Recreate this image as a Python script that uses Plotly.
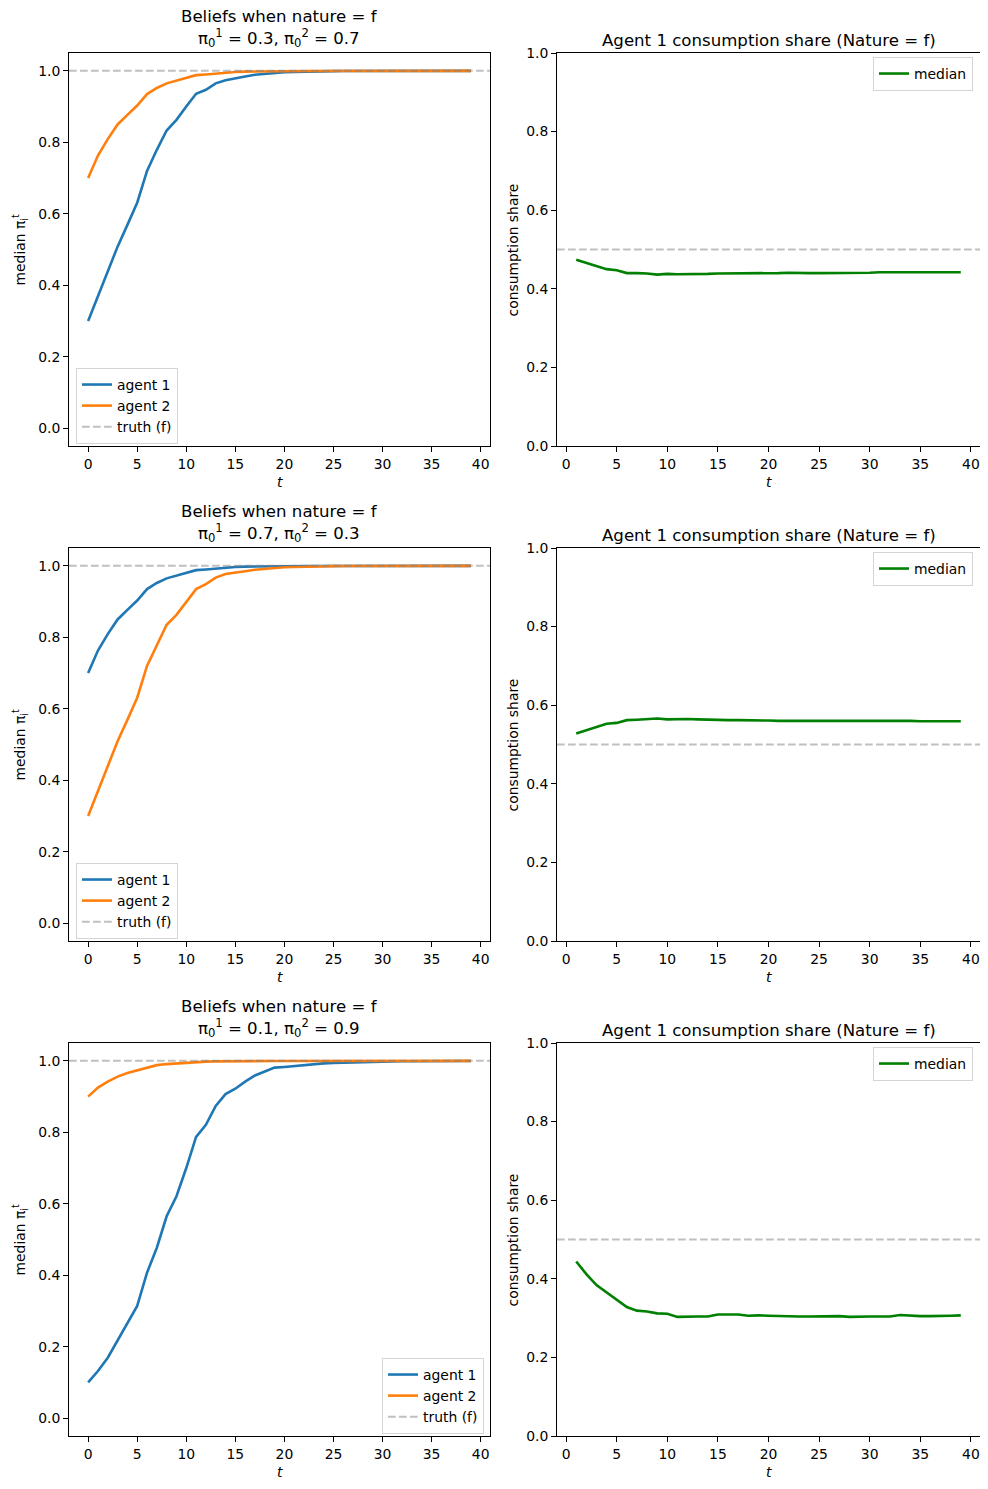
import plotly.graph_objects as go

# ---------------- data ----------------
T_BELIEF = list(range(40))
T_SHARE = list(range(1, 40))

# scenario 1: pi0 = (0.3, 0.7)
S1_AGENT1 = [0.300, 0.368, 0.438, 0.508, 0.569, 0.631, 0.720, 0.779, 0.833, 0.863,
             0.900, 0.936, 0.947, 0.965, 0.974, 0.978, 0.984, 0.989, 0.992, 0.994,
             0.996, 0.997, 0.998, 0.9985, 0.999, 0.9993, 0.9995, 0.9996, 0.9997, 0.9998,
             0.9998, 0.9999, 0.9999, 0.9999, 1.0, 1.0, 1.0, 1.0, 1.0, 1.0]
S1_AGENT2 = [0.700, 0.763, 0.809, 0.850, 0.877, 0.903, 0.935, 0.952, 0.965, 0.972,
             0.981, 0.988, 0.990, 0.993, 0.995, 0.997, 0.998, 0.9985, 0.999, 0.9993,
             0.9995, 0.9996, 0.9997, 0.9998, 0.9998, 0.9999, 0.9999, 1.0, 1.0, 1.0,
             1.0, 1.0, 1.0, 1.0, 1.0, 1.0, 1.0, 1.0, 1.0, 1.0]
S1_SHARE = [0.474, 0.466, 0.458, 0.450, 0.447, 0.440, 0.440, 0.439, 0.436, 0.438,
            0.437, 0.437, 0.4375, 0.438, 0.439, 0.439, 0.439, 0.439, 0.440, 0.440,
            0.440, 0.441, 0.440, 0.440, 0.440, 0.440, 0.441, 0.441, 0.441, 0.441,
            0.442, 0.442, 0.442, 0.442, 0.442, 0.442, 0.442, 0.442, 0.442]

# scenario 2: pi0 = (0.7, 0.3)
S2_AGENT1 = [0.700, 0.763, 0.809, 0.850, 0.877, 0.903, 0.935, 0.952, 0.965, 0.972,
             0.981, 0.988, 0.990, 0.993, 0.995, 0.997, 0.998, 0.9985, 0.999, 0.9993,
             0.9995, 0.9996, 0.9997, 0.9998, 0.9998, 0.9999, 0.9999, 1.0, 1.0, 1.0,
             1.0, 1.0, 1.0, 1.0, 1.0, 1.0, 1.0, 1.0, 1.0, 1.0]
S2_AGENT2 = [0.300, 0.370, 0.438, 0.509, 0.569, 0.631, 0.720, 0.779, 0.835, 0.863,
             0.900, 0.935, 0.949, 0.967, 0.977, 0.980, 0.985, 0.989, 0.992, 0.994,
             0.996, 0.997, 0.998, 0.9985, 0.999, 0.9993, 0.9995, 0.9996, 0.9997, 0.9998,
             0.9998, 0.9999, 0.9999, 0.9999, 1.0, 1.0, 1.0, 1.0, 1.0, 1.0]
S2_SHARE = [0.528, 0.536, 0.545, 0.553, 0.555, 0.562, 0.563, 0.564, 0.566, 0.564,
            0.565, 0.565, 0.564, 0.563, 0.562, 0.562, 0.562, 0.562, 0.561, 0.561,
            0.560, 0.560, 0.561, 0.560, 0.560, 0.560, 0.560, 0.560, 0.560, 0.560,
            0.560, 0.560, 0.560, 0.560, 0.559, 0.559, 0.559, 0.559, 0.559]

# scenario 3: pi0 = (0.1, 0.9)
S3_AGENT1 = [0.100, 0.132, 0.169, 0.216, 0.263, 0.314, 0.407, 0.477, 0.565, 0.621,
             0.700, 0.787, 0.821, 0.874, 0.907, 0.922, 0.942, 0.959, 0.970, 0.981,
             0.983, 0.986, 0.989, 0.992, 0.993, 0.994, 0.995, 0.996, 0.997, 0.998,
             0.998, 0.999, 0.999, 0.999, 0.9995, 0.9995, 0.9997, 0.9997, 0.9998, 0.9998]
S3_AGENT2 = [0.900, 0.925, 0.942, 0.956, 0.966, 0.973, 0.982, 0.988, 0.991, 0.993,
             0.995, 0.997, 0.998, 0.9985, 0.999, 0.9993, 0.9995, 0.9996, 0.9997, 0.9998,
             0.9998, 0.9999, 0.9999, 1.0, 1.0, 1.0, 1.0, 1.0, 1.0, 1.0,
             1.0, 1.0, 1.0, 1.0, 1.0, 1.0, 1.0, 1.0, 1.0, 1.0]
S3_SHARE = [0.444, 0.412, 0.384, 0.365, 0.348, 0.328, 0.319, 0.317, 0.312, 0.311,
            0.303, 0.304, 0.304, 0.304, 0.309, 0.309, 0.309, 0.306, 0.307, 0.306,
            0.305, 0.305, 0.304, 0.304, 0.304, 0.304, 0.305, 0.303, 0.304, 0.304,
            0.304, 0.304, 0.308, 0.306, 0.305, 0.305, 0.305, 0.306, 0.307]

PRIORS = [("0.3", "0.7"), ("0.7", "0.3"), ("0.1", "0.9")]
TRUTH = 1.0
EQUAL_SHARE = 0.5
BELIEF_TICKS = [0.0, 0.2, 0.4, 0.6, 0.8, 1.0]
SHARE_TICKS = [0.0, 0.2, 0.4, 0.6, 0.8, 1.0]
T_TICKS = [0, 5, 10, 15, 20, 25, 30, 35, 40]

SCENARIOS = [
    (S1_AGENT1, S1_AGENT2, S1_SHARE),
    (S2_AGENT1, S2_AGENT2, S2_SHARE),
    (S3_AGENT1, S3_AGENT2, S3_SHARE),
]

# ---------------- layout helpers ----------------
OFF = 8                      # page body margin of the browser
W, H = 988 - OFF, 1489 - OFF
FONT = "DejaVu Sans"
FS = 13.9
BLUE, ORANGE, GREEN = "#1f77b4", "#ff7f0e", "#008000"
GRAY = "rgba(128,128,128,0.5)"
DASH = "7.7px,3.3px"


def px(p):
    return (p - OFF) / W


def py(p):
    return 1 - (p - OFF) / H


def ax_id(n):
    return ("x" if n == 1 else f"x{n}"), ("y" if n == 1 else f"y{n}")


def ax_key(n):
    return ("xaxis" if n == 1 else f"xaxis{n}"), ("yaxis" if n == 1 else f"yaxis{n}")


def leg_key(n):
    return "legend" if n == 1 else f"legend{n}"


LEFT_X = (69, 490)
RIGHT_X = (557, 980)
ROWS_Y = [(53, 446), (548, 941), (1043, 1436)]

fig = go.Figure()
annotations = []
shapes = []
layout = {}

axis_common = dict(showline=True, linecolor="black", linewidth=1, mirror=True,
                   ticks="outside", ticklen=5, tickwidth=1, tickcolor="black",
                   showgrid=False, zeroline=False, automargin=False,
                   tickfont=dict(family=FONT, size=FS, color="black"))

legend_style = dict(bgcolor="rgba(255,255,255,0.8)", bordercolor="#d5d5d5",
                    borderwidth=1, font=dict(family=FONT, size=FS, color="black"),
                    tracegroupgap=0, itemwidth=30)

for r, (a1, a2, share) in enumerate(SCENARIOS):
    top, bot = ROWS_Y[r]
    nL = 2 * r + 1
    nR = 2 * r + 2
    xl, yl = ax_id(nL)
    xr, yr = ax_id(nR)
    kxl, kyl = ax_key(nL)
    kxr, kyr = ax_key(nR)
    legL, legR = leg_key(nL), leg_key(nR)

    layout[kxl] = dict(domain=[px(LEFT_X[0]), px(LEFT_X[1])], anchor=yl,
                       range=[-1.95, 40.95], tickvals=T_TICKS, **axis_common)
    layout[kyl] = dict(domain=[py(bot), py(top)], anchor=xl,
                       range=[-0.05, 1.05], tickvals=BELIEF_TICKS,
                       tickformat=".1f", **axis_common)
    layout[kxr] = dict(domain=[px(RIGHT_X[0]), px(RIGHT_X[1])], anchor=yr,
                       range=[-0.9, 40.9], tickvals=T_TICKS, **axis_common)
    layout[kyr] = dict(domain=[py(bot), py(top)], anchor=xr,
                       range=[0, 1], tickvals=SHARE_TICKS,
                       tickformat=".1f", **axis_common)

    # belief traces
    fig.add_trace(go.Scatter(x=T_BELIEF, y=a1, mode="lines", name="agent 1",
                             line=dict(color=BLUE, width=2.6), xaxis=xl, yaxis=yl,
                             legend=legL))
    fig.add_trace(go.Scatter(x=T_BELIEF, y=a2, mode="lines", name="agent 2",
                             line=dict(color=ORANGE, width=2.6), xaxis=xl, yaxis=yl,
                             legend=legL))
    fig.add_trace(go.Scatter(x=[None], y=[None], mode="lines", name="truth (f)",
                             line=dict(color=GRAY, width=2, dash=DASH),
                             xaxis=xl, yaxis=yl, legend=legL))
    shapes.append(dict(type="line", xref=f"{xl} domain", yref=yl, x0=0, x1=1,
                       y0=TRUTH, y1=TRUTH, line=dict(color=GRAY, width=2, dash=DASH)))

    # share traces
    fig.add_trace(go.Scatter(x=T_SHARE, y=share, mode="lines", name="median",
                             line=dict(color=GREEN, width=2.6), xaxis=xr, yaxis=yr,
                             legend=legR))
    shapes.append(dict(type="line", xref=f"{xr} domain", yref=yr, x0=0, x1=1,
                       y0=EQUAL_SHARE, y1=EQUAL_SHARE,
                       line=dict(color=GRAY, width=2, dash=DASH), layer="below"))

    if r < 2:
        layout[legL] = dict(x=px(LEFT_X[0] + 7), y=py(bot - 2), xanchor="left",
                            yanchor="bottom", **legend_style)
    else:
        layout[legL] = dict(x=px(LEFT_X[1] - 6), y=py(bot - 2), xanchor="right",
                            yanchor="bottom", **legend_style)
    layout[legR] = dict(x=px(RIGHT_X[1] - 7), y=py(top + 4), xanchor="right",
                        yanchor="top", **legend_style)

    p1, p2 = PRIORS[r]
    annotations.append(dict(
        text=f"Beliefs when nature = f<br>π<sub>0</sub><sup>1</sup> = {p1}, π<sub>0</sub><sup>2</sup> = {p2}",
        x=px((LEFT_X[0] + LEFT_X[1]) / 2), y=py(top - 1), xref="paper", yref="paper",
        xanchor="center", yanchor="bottom", showarrow=False,
        font=dict(family=FONT, size=16.6, color="black")))
    annotations.append(dict(
        text="Agent 1 consumption share (Nature = f)",
        x=px((RIGHT_X[0] + RIGHT_X[1]) / 2), y=py(top - 1), xref="paper", yref="paper",
        xanchor="center", yanchor="bottom", showarrow=False,
        font=dict(family=FONT, size=16.6, color="black")))
    annotations.append(dict(text="median π<sub>i</sub><sup>t</sup>", textangle=-90,
                            x=px(20), y=py((top + bot) / 2), xref="paper", yref="paper",
                            xanchor="center", yanchor="middle", showarrow=False,
                            font=dict(family=FONT, size=FS, color="black")))
    annotations.append(dict(text="consumption share", textangle=-90,
                            x=px(512), y=py((top + bot) / 2), xref="paper", yref="paper",
                            xanchor="center", yanchor="middle", showarrow=False,
                            font=dict(family=FONT, size=FS, color="black")))
    for (xa, xb) in (LEFT_X, RIGHT_X):
        annotations.append(dict(text="<i>t</i>", x=px((xa + xb) / 2), y=py(bot + 36),
                                xref="paper", yref="paper", xanchor="center",
                                yanchor="middle", showarrow=False,
                                font=dict(family=FONT, size=FS, color="black")))

fig.update_layout(width=W, height=H,
                  margin=dict(l=0, r=0, t=0, b=0, pad=0, autoexpand=False),
                  plot_bgcolor="white", paper_bgcolor="white",
                  font=dict(family=FONT, size=FS, color="black"),
                  annotations=annotations, shapes=shapes, **layout)

fig.write_html("out.html")
